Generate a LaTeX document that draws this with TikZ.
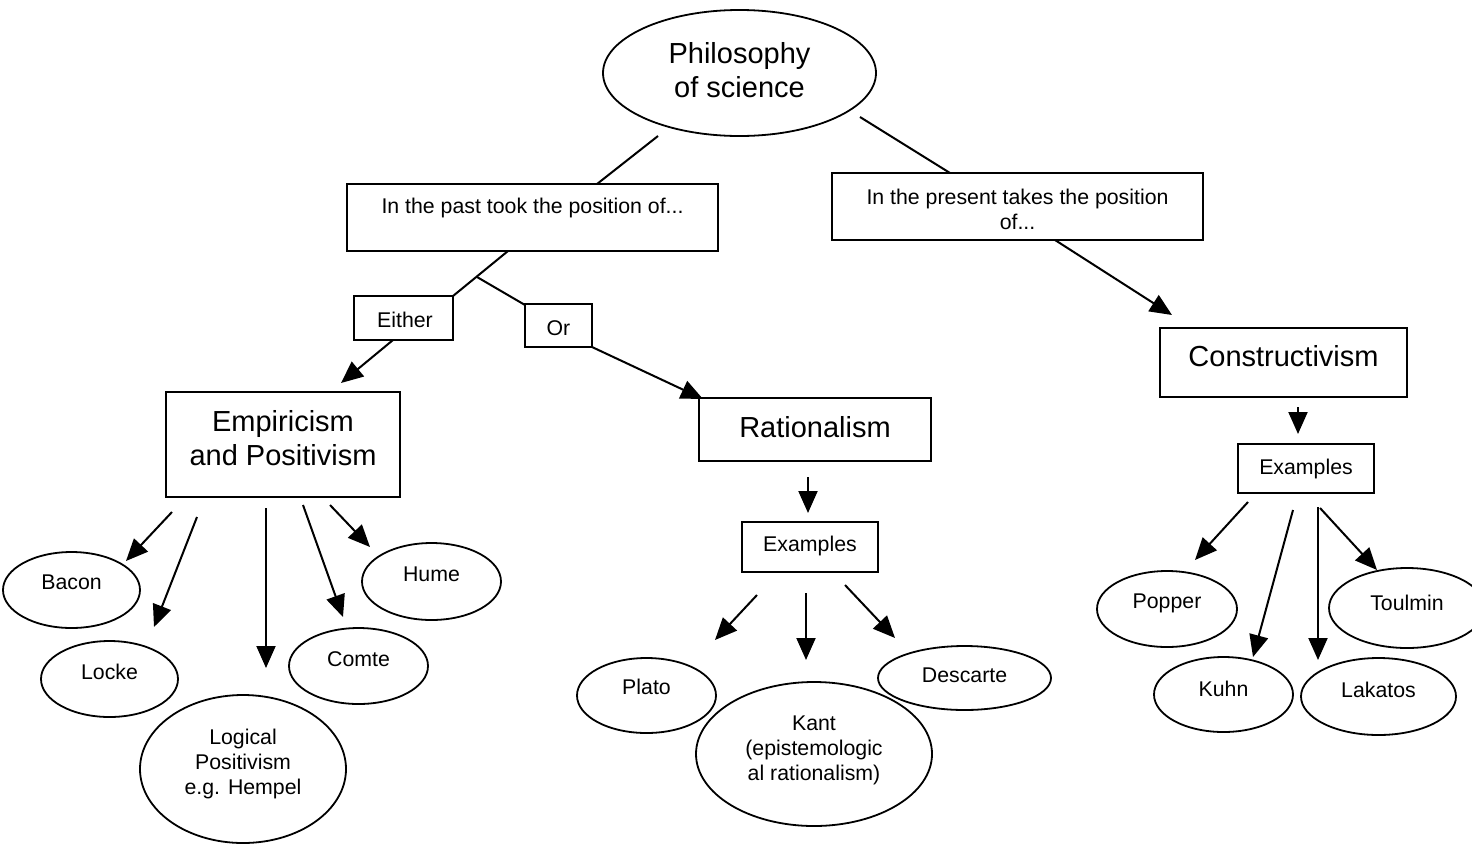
\documentclass[tikz,border=0pt]{standalone}
\usepackage{fontspec}
\setmainfont{Liberation Sans}
\usetikzlibrary{shapes.geometric,arrows.meta}
\tikzset{
  ell/.style={draw, ellipse, line width=1.8pt, inner sep=0pt},
  rbox/.style={draw, rectangle, line width=1.8pt, inner sep=0pt},
  sm/.style={font=\fontsize{21.3}{25}\selectfont, align=center, inner sep=0pt},
  big/.style={font=\fontsize{29}{34}\selectfont, align=center, inner sep=0pt},
  conn/.style={line width=2pt},
  arr/.style={line width=2pt, -{Triangle[length=22pt, width=19pt]}}
}
\begin{document}
\begin{tikzpicture}[x=1pt, y=-1pt]
\useasboundingbox (0,0) rectangle (1472,844);

% ---------- nodes ----------
\node[ell, minimum width=273pt, minimum height=126pt,
  label={[big, yshift=3pt]center:Philosophy\\of science}] (phil) at (739.5,73) {};

\node[rbox, minimum width=371pt, minimum height=67pt,
  label={[sm, yshift=9.5pt]center:In the past took the position of...}] (past) at (532.5,217.5) {};
\node[rbox, minimum width=371pt, minimum height=67pt,
  label={[sm, yshift=-2.5pt]center:In the present takes the position\\of...}] (present) at (1017.5,206.5) {};

\node[rbox, minimum width=99pt, minimum height=44pt,
  label={[sm, xshift=1.5pt, yshift=-2pt]center:Either}] (either) at (403.5,318) {};
\node[rbox, minimum width=67pt, minimum height=43pt,
  label={[sm, yshift=-3pt]center:Or}] (or) at (558.5,325.5) {};

\node[rbox, minimum width=234pt, minimum height=105pt,
  label={[big, yshift=6.5pt]center:Empiricism\\and Positivism}] (emp) at (283,444.5) {};
\node[rbox, minimum width=232pt, minimum height=63pt,
  label={[big, yshift=2.5pt]center:Rationalism}] (rat) at (815,429.5) {};
\node[rbox, minimum width=247pt, minimum height=69pt,
  label={[big, yshift=6pt]center:Constructivism}] (con) at (1283.5,362.5) {};

\node[rbox, minimum width=136pt, minimum height=50pt,
  label={[sm, yshift=1pt]center:Examples}] (exa) at (810,547) {};
\node[rbox, minimum width=136pt, minimum height=49pt,
  label={[sm]center:Examples}] (exb) at (1306,468.5) {};

% empiricism examples
\node[ell, minimum width=137pt, minimum height=76pt,
  label={[sm, yshift=8pt]center:Bacon}] (bacon) at (71.5,590) {};
\node[ell, minimum width=137pt, minimum height=76pt,
  label={[sm, yshift=7pt]center:Locke}] (locke) at (109.5,679) {};
\node[ell, minimum width=206pt, minimum height=148pt,
  label={[sm, yshift=5pt]center:Logical\\Positivism\\e.g. Hempel}] (logical) at (243,769) {};
\node[ell, minimum width=139pt, minimum height=76pt,
  label={[sm, yshift=7pt]center:Comte}] (comte) at (358.5,666) {};
\node[ell, minimum width=139pt, minimum height=77pt,
  label={[sm, yshift=7pt]center:Hume}] (hume) at (431.5,581.5) {};

% rationalism examples
\node[ell, minimum width=139pt, minimum height=75pt,
  label={[sm, yshift=9pt]center:Plato}] (plato) at (646.5,695.5) {};
\node[ell, minimum width=236pt, minimum height=144pt,
  label={[sm, yshift=4pt]center:Kant\\(epistemologic\\al rationalism)}] (kant) at (814,754) {};
\node[ell, minimum width=173pt, minimum height=64pt,
  label={[sm, yshift=3pt]center:Descarte}] (descarte) at (964.5,678) {};

% constructivism examples
\node[ell, minimum width=140pt, minimum height=76pt,
  label={[sm, yshift=6pt]center:Popper}] (popper) at (1167,609) {};
\node[ell, minimum width=139pt, minimum height=75pt,
  label={[sm, yshift=6pt]center:Kuhn}] (kuhn) at (1223.5,694.5) {};
\node[ell, minimum width=155pt, minimum height=77pt,
  label={[sm, yshift=7pt]center:Lakatos}] (lakatos) at (1378.5,696.5) {};
\node[ell, minimum width=156pt, minimum height=80pt,
  label={[sm, yshift=5pt]center:Toulmin}] (toulmin) at (1407,608) {};

% ---------- connector end points ----------
\coordinate (p1) at (658,136);   \coordinate (p2) at (597,184);
\coordinate (q1) at (860,117);   \coordinate (q2) at (950,173);
\coordinate (r1) at (508,251);   \coordinate (r2) at (453,296);
\coordinate (rb) at (477,277);   \coordinate (r3) at (525,305);
\coordinate (e1) at (393,340);   \coordinate (e2) at (341,383);
\coordinate (o1) at (592,347);   \coordinate (o2) at (703,399);
\coordinate (c1) at (1055,240);  \coordinate (c2) at (1172,315);

\coordinate (ba1) at (172,512);  \coordinate (ba2) at (126,561);
\coordinate (lo1) at (197,517);  \coordinate (lo2) at (154,627);
\coordinate (lp1) at (266,508);  \coordinate (lp2) at (266,668);
\coordinate (co1) at (303,505);  \coordinate (co2) at (343,617);
\coordinate (hu1) at (330,505);  \coordinate (hu2) at (370,547);

\coordinate (ra1) at (808,477);  \coordinate (ra2) at (808,513);
\coordinate (pl1) at (757,595);  \coordinate (pl2) at (715,640);
\coordinate (ka1) at (806,593);  \coordinate (ka2) at (806,660);
\coordinate (de1) at (845,585);  \coordinate (de2) at (895,638);

\coordinate (cn1) at (1298,407); \coordinate (cn2) at (1298,434);
\coordinate (po1) at (1248,502); \coordinate (po2) at (1195,560);
\coordinate (ku1) at (1293,510); \coordinate (ku2) at (1253,657);
\coordinate (la1) at (1318,507); \coordinate (la2) at (1318,660);
\coordinate (to1) at (1320,508); \coordinate (to2) at (1377,570);

% ---------- connectors ----------
\draw[conn] (p1) -- (p2);
\draw[conn] (q1) -- (q2);
\draw[conn] (r1) -- (r2);
\draw[conn] (rb) -- (r3);
\draw[arr] (e1) -- (e2);
\draw[arr] (o1) -- (o2);
\draw[arr] (c1) -- (c2);

\draw[arr] (ba1) -- (ba2);
\draw[arr] (lo1) -- (lo2);
\draw[arr] (lp1) -- (lp2);
\draw[arr] (co1) -- (co2);
\draw[arr] (hu1) -- (hu2);

\draw[arr] (ra1) -- (ra2);
\draw[arr] (pl1) -- (pl2);
\draw[arr] (ka1) -- (ka2);
\draw[arr] (de1) -- (de2);

\draw[arr] (cn1) -- (cn2);
\draw[arr] (po1) -- (po2);
\draw[arr] (ku1) -- (ku2);
\draw[arr] (la1) -- (la2);
\draw[arr] (to1) -- (to2);
\end{tikzpicture}
\end{document}
